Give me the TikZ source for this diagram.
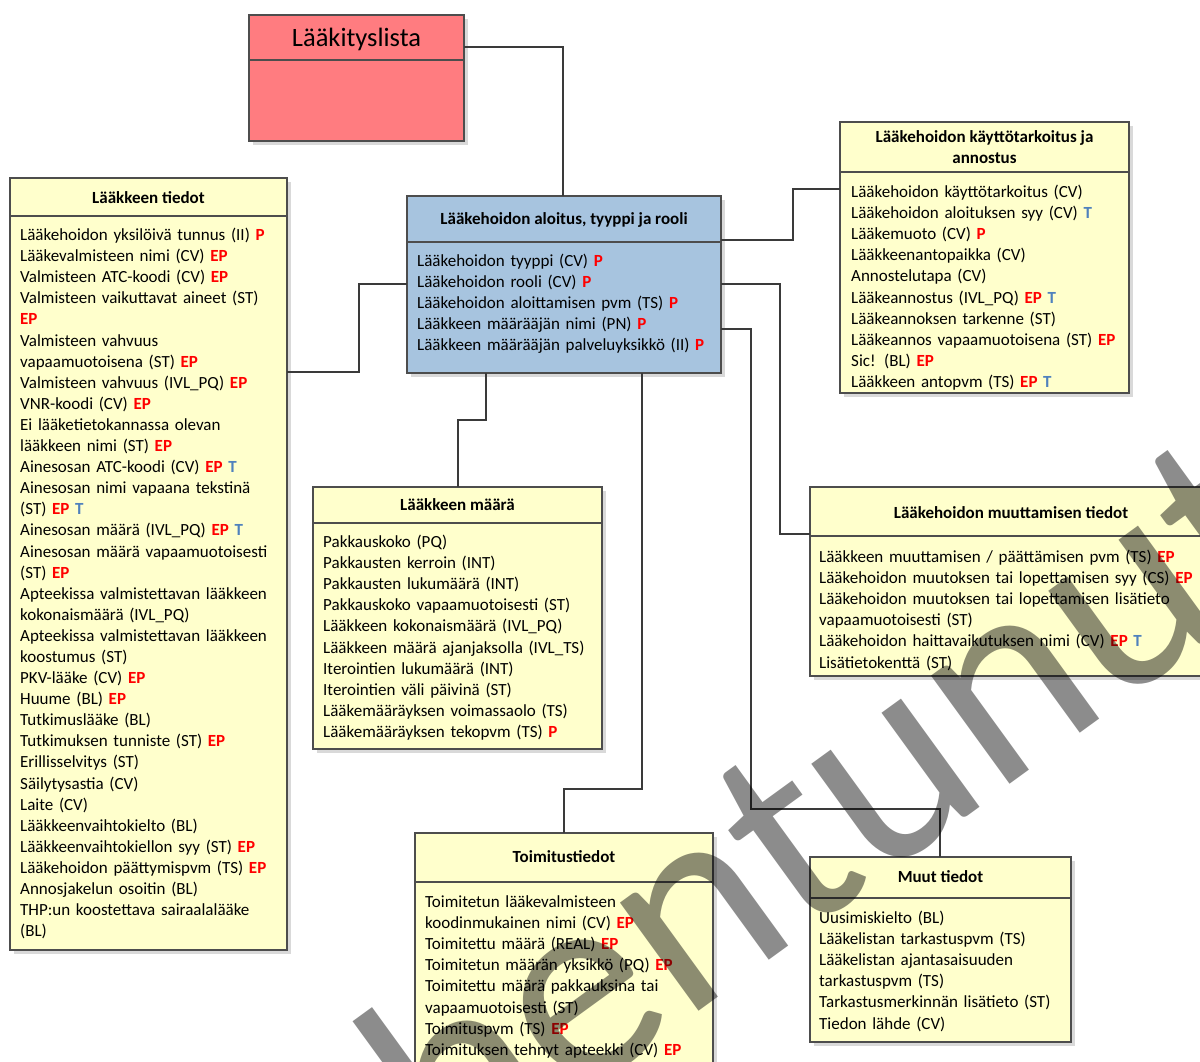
\documentclass[tikz,border=0pt]{standalone}
\usepackage{fontspec}
\setmainfont{Carlito}
\usetikzlibrary{shadows}

\definecolor{boxyellow}{HTML}{FFFFCC}
\definecolor{boxblue}{HTML}{A7C4DF}
\definecolor{boxpink}{HTML}{FF7C80}
\definecolor{edgegrey}{HTML}{4D4D4D}
\definecolor{linkgrey}{HTML}{3A3A3A}
\definecolor{markred}{HTML}{FF0000}
\definecolor{markblue}{HTML}{4F81BD}

% attribute markers
\newcommand\mkP{\textbf{\textcolor{markred}{P}}}
\newcommand\mkEP{\textbf{\textcolor{markred}{EP}}}
\newcommand\mkT{\textbf{\textcolor{markblue}{T}}}

\tikzset{
  classbox/.style={draw=edgegrey, line width=1.4pt, inner sep=0pt, outer sep=0pt,
    anchor=north west,
    drop shadow={shadow xshift=4pt, shadow yshift=-4pt, fill=black!15, opacity=1}},
  yellowbox/.style={classbox, fill=boxyellow},
  divider/.style={draw=edgegrey, line width=1.4pt},
  classtitle/.style={inner sep=0pt, anchor=base, align=center,
    font=\fontsize{17}{21.1}\selectfont\bfseries},
  attrs/.style={inner sep=0pt, anchor=base west, align=left, text width=440pt,
    font=\fontsize{17}{21.1}\selectfont},
  link/.style={draw=linkgrey, line width=2pt},
  stamp/.style={inner sep=0pt, rotate=36, text=black, text opacity=0.45,
    font=\fontsize{280}{290}\selectfont}
}

\begin{document}
\begin{tikzpicture}[x=1pt, y=-1pt]
\useasboundingbox (0,0) rectangle (1200,1062);
\fill[white] (0,0) rectangle (1200,1062);
\clip (0,0) rectangle (1200,1062);

% ---- class boxes ----
\node[classbox, fill=boxpink, minimum width=215pt, minimum height=126pt] (lista) at (249,15) {};
\node[classbox, fill=boxblue, minimum width=314pt, minimum height=177pt] (aloitus) at (407,196) {};
\node[yellowbox, minimum width=277pt, minimum height=772pt] (tiedot) at (10,178) {};
\node[yellowbox, minimum width=289pt, minimum height=271pt] (kaytto) at (840,122) {};
\node[yellowbox, minimum width=289pt, minimum height=262pt] (maara) at (313,487) {};
\node[yellowbox, minimum width=402pt, minimum height=189pt] (muutos) at (810,487) {};
\node[yellowbox, minimum width=298pt, minimum height=250pt] (toimitus) at (415,833) {};
\node[yellowbox, minimum width=261pt, minimum height=185pt] (muut) at (810,857) {};

% compartment dividers
\draw[divider] (lista.west |- 0,60) -- (lista.east |- 0,60);
\draw[divider] (aloitus.west |- 0,242) -- (aloitus.east |- 0,242);
\draw[divider] (tiedot.west |- 0,216) -- (tiedot.east |- 0,216);
\draw[divider] (kaytto.west |- 0,172) -- (kaytto.east |- 0,172);
\draw[divider] (maara.west |- 0,523) -- (maara.east |- 0,523);
\draw[divider] (muutos.west |- 0,536) -- (muutos.east |- 0,536);
\draw[divider] (toimitus.west |- 0,882) -- (toimitus.east |- 0,882);
\draw[divider] (muut.west |- 0,898) -- (muut.east |- 0,898);

% ---- titles ----
\node[inner sep=0pt, anchor=base, font=\fontsize{26.5}{30}\selectfont] (lista-title) at (356.5,46.5) {Lääkityslista};
\node[classtitle] (aloitus-title) at (564,224.5) {Lääkehoidon aloitus, tyyppi ja rooli};
\node[classtitle] (tiedot-title) at (148.5,203.5) {Lääkkeen tiedot};
% two-line title: base anchor sits on the last line
\node[classtitle] (kaytto-title) at (984.5,163.5) {Lääkehoidon käyttötarkoitus ja\\annostus};
\node[classtitle] (maara-title) at (457.5,510.5) {Lääkkeen määrä};
\node[classtitle] (muutos-title) at (1011,518.5) {Lääkehoidon muuttamisen tiedot};
\node[classtitle] (toimitus-title) at (564,862.5) {Toimitustiedot};
\node[classtitle] (muut-title) at (940.5,882.5) {Muut tiedot};

% ---- attributes ----
\node[attrs] (aloitus-attrs) at (417,266.5) {%
Lääkehoidon tyyppi (CV) \mkP\\
Lääkehoidon rooli (CV) \mkP\\
Lääkehoidon aloittamisen pvm (TS) \mkP\\
Lääkkeen määrääjän nimi (PN) \mkP\\
Lääkkeen määrääjän palveluyksikkö (II) \mkP};

\node[attrs] (tiedot-attrs) at (20,240.5) {%
Lääkehoidon yksilöivä tunnus (II) \mkP\\
Lääkevalmisteen nimi (CV) \mkEP\\
Valmisteen ATC-koodi (CV) \mkEP\\
Valmisteen vaikuttavat aineet (ST)\\
\mkEP\\
Valmisteen vahvuus\\
vapaamuotoisena (ST) \mkEP\\
Valmisteen vahvuus (IVL\_PQ) \mkEP\\
VNR-koodi (CV) \mkEP\\
Ei lääketietokannassa olevan\\
lääkkeen nimi (ST) \mkEP\\
Ainesosan ATC-koodi (CV) \mkEP{} \mkT\\
Ainesosan nimi vapaana tekstinä\\
(ST) \mkEP{} \mkT\\
Ainesosan määrä (IVL\_PQ) \mkEP{} \mkT\\
Ainesosan määrä vapaamuotoisesti\\
(ST) \mkEP\\
Apteekissa valmistettavan lääkkeen\\
kokonaismäärä (IVL\_PQ)\\
Apteekissa valmistettavan lääkkeen\\
koostumus (ST)\\
PKV-lääke (CV) \mkEP\\
Huume (BL) \mkEP\\
Tutkimuslääke (BL)\\
Tutkimuksen tunniste (ST) \mkEP\\
Erillisselvitys (ST)\\
Säilytysastia (CV)\\
Laite (CV)\\
Lääkkeenvaihtokielto (BL)\\
Lääkkeenvaihtokiellon syy (ST) \mkEP\\
Lääkehoidon päättymispvm (TS) \mkEP\\
Annosjakelun osoitin (BL)\\
THP:un koostettava sairaalalääke\\
(BL)};

\node[attrs] (kaytto-attrs) at (851,197.5) {%
Lääkehoidon käyttötarkoitus (CV)\\
Lääkehoidon aloituksen syy (CV) \mkT\\
Lääkemuoto (CV) \mkP\\
Lääkkeenantopaikka (CV)\\
Annostelutapa (CV)\\
Lääkeannostus (IVL\_PQ) \mkEP{} \mkT\\
Lääkeannoksen tarkenne (ST)\\
Lääkeannos vapaamuotoisena (ST) \mkEP\\
Sic! (BL) \mkEP\\
Lääkkeen antopvm (TS) \mkEP{} \mkT};

\node[attrs] (maara-attrs) at (323,547.5) {%
Pakkauskoko (PQ)\\
Pakkausten kerroin (INT)\\
Pakkausten lukumäärä (INT)\\
Pakkauskoko vapaamuotoisesti (ST)\\
Lääkkeen kokonaismäärä (IVL\_PQ)\\
Lääkkeen määrä ajanjaksolla (IVL\_TS)\\
Iterointien lukumäärä (INT)\\
Iterointien väli päivinä (ST)\\
Lääkemääräyksen voimassaolo (TS)\\
Lääkemääräyksen tekopvm (TS) \mkP};

\node[attrs] (muutos-attrs) at (819,562.5) {%
Lääkkeen muuttamisen / päättämisen pvm (TS) \mkEP\\
Lääkehoidon muutoksen tai lopettamisen syy (CS) \mkEP\\
Lääkehoidon muutoksen tai lopettamisen lisätieto\\
vapaamuotoisesti (ST)\\
Lääkehoidon haittavaikutuksen nimi (CV) \mkEP{} \mkT\\
Lisätietokenttä (ST)};

\node[attrs] (toimitus-attrs) at (425,907.5) {%
Toimitetun lääkevalmisteen\\
koodinmukainen nimi (CV) \mkEP\\
Toimitettu määrä (REAL) \mkEP\\
Toimitetun määrän yksikkö (PQ) \mkEP\\
Toimitettu määrä pakkauksina tai\\
vapaamuotoisesti (ST)\\
Toimituspvm (TS) \mkEP\\
Toimituksen tehnyt apteekki (CV) \mkEP};

\node[attrs] (muut-attrs) at (819,923.5) {%
Uusimiskielto (BL)\\
Lääkelistan tarkastuspvm (TS)\\
Lääkelistan ajantasaisuuden\\
tarkastuspvm (TS)\\
Tarkastusmerkinnän lisätieto (ST)\\
Tiedon lähde (CV)};

% ---- connectors ----
\draw[link] (lista.east |- 0,47) -| (aloitus.north -| 563,0);
\draw[link] (tiedot.east |- 0,372) -| (359,284) -- (aloitus.west |- 0,284);
\draw[link] (aloitus.east |- 0,240) -| (793,189) -- (kaytto.west |- 0,189);
\draw[link] (aloitus.east |- 0,284) -| (780,534) -- (muutos.west |- 0,534);
\draw[link] (aloitus.east |- 0,329) -| (751,809) -| (muut.north -| 940,0);
\draw[link] (aloitus.south -| 486,0) |- (458,420) -- (maara.north -| 458,0);
\draw[link] (aloitus.south -| 642,0) |- (564,789) -- (toimitus.north -| 564,0);

% ---- overlay stamp ----
\node[stamp] (overlay) at (652,926) {Vanhentunut};
\end{tikzpicture}
\end{document}
